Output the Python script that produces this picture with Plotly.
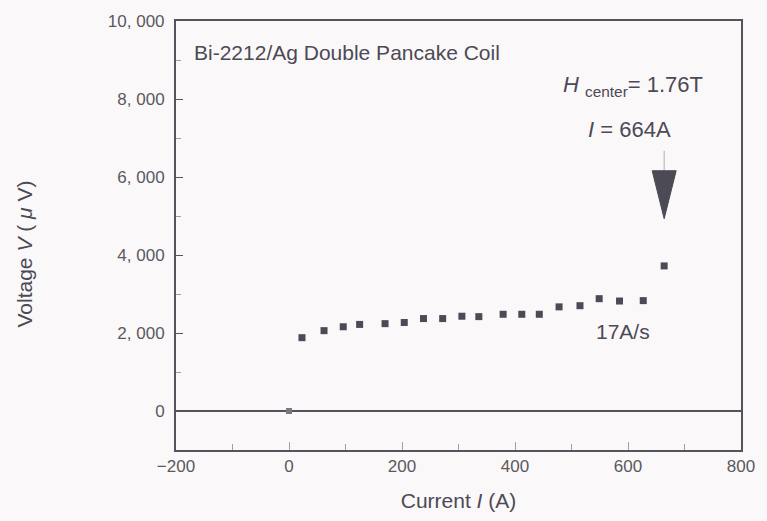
import plotly.graph_objects as go

# Quench measurement of a Bi-2212/Ag double pancake coil at 17 A/s
current_a = [23, 62, 96, 125, 170, 204, 238, 272, 306, 336, 379, 412, 443,
             478, 515, 549, 585, 627, 664]
voltage_uv = [1880, 2060, 2160, 2220, 2240, 2270, 2370, 2370, 2430, 2420,
              2480, 2480, 2480, 2670, 2700, 2880, 2820, 2830, 3720]

# Starting point of the ramp
origin_current = [0]
origin_voltage = [0]

x_ticks = [-200, 0, 200, 400, 600, 800]
y_ticks = [0, 2000, 4000, 6000, 8000, 10000]
y_tick_text = ["0", "2, 000", "4, 000", "6, 000", "8, 000", "10, 000"]

# Quench point marked by the arrow
quench_current = 664
arrow_tip_v = 4930
arrow_base_v = 6150
arrow_stem_top_v = 6670

ink = "#4b4a55"
axis_ink = "#55545c"
tick_ink = "#a09fa6"
font_family = "Liberation Sans, Arial, sans-serif"

fig = go.Figure()

fig.add_trace(go.Scatter(
    x=origin_current, y=origin_voltage, mode="markers",
    marker=dict(symbol="square", size=6, color="#7a7980"),
    showlegend=False, hoverinfo="skip",
))
fig.add_trace(go.Scatter(
    x=current_a, y=voltage_uv, mode="markers",
    marker=dict(symbol="square", size=7, color=ink),
    showlegend=False,
))

# Arrow pointing at the quench point
fig.add_shape(
    type="line", xref="x", yref="y",
    x0=quench_current, x1=quench_current,
    y0=arrow_base_v, y1=arrow_stem_top_v,
    line=dict(color="#b0afb5", width=1),
)
fig.add_shape(
    type="path", xref="x", yref="y",
    xsizemode="pixel", ysizemode="pixel",
    xanchor=quench_current, yanchor=arrow_tip_v,
    path="M -12,48 L 12,48 L 0,0 Z",
    fillcolor=ink, line=dict(color=ink, width=1),
)

annotations = [
    dict(x=-171, y=9200, text="Bi-2212/Ag Double Pancake Coil",
         xanchor="left", yanchor="middle", size=21),
    dict(x=482, y=8330, text="<i>H</i> <sub>center</sub>= 1.76T",
         xanchor="left", yanchor="middle", size=22),
    dict(x=526, y=7230, text="<i>I</i> = 664A",
         xanchor="left", yanchor="middle", size=22),
    dict(x=540, y=2040, text="17A/s",
         xanchor="left", yanchor="middle", size=21),
]
for a in annotations:
    size = a.pop("size")
    a.update(xref="x", yref="y", showarrow=False,
             font=dict(size=size, color=ink, family=font_family))
    fig.add_annotation(**a)

# Vertical axis title, set slightly below the middle of the axis
fig.add_annotation(
    xref="paper", yref="paper", x=-0.268, y=0.457,
    text="Voltage <i>V</i> ( <i>μ</i> V)", textangle=-90,
    showarrow=False, xanchor="center", yanchor="middle",
    font=dict(size=21, color=ink, family=font_family),
)

fig.update_layout(
    width=767, height=521,
    margin=dict(l=176, r=17, t=21, b=69),
    paper_bgcolor="#fbf8f9", plot_bgcolor="#fbf8f9",
    font=dict(family=font_family, color=ink, size=17),
)
fig.update_xaxes(
    range=[-200, 800], tickvals=x_ticks,
    ticks="inside", ticklen=8, tickcolor=tick_ink, tickwidth=1,
    minor=dict(dtick=100, ticks="inside", ticklen=6, tickcolor=tick_ink),
    showline=True, linecolor=axis_ink, linewidth=2, mirror=True,
    showgrid=False, zeroline=False,
    tickfont=dict(size=17, color="#5a5960"),
    title=dict(text="Current <i>I</i> (A)", font=dict(size=21), standoff=18),
)
fig.update_yaxes(
    range=[-1000, 10000], tickvals=y_ticks, ticktext=y_tick_text,
    ticks="inside", ticklen=7, tickcolor=axis_ink, tickwidth=1,
    minor=dict(dtick=1000, ticks="inside", ticklen=5, tickcolor=tick_ink),
    showline=True, linecolor=axis_ink, linewidth=2, mirror=True,
    showgrid=False, zeroline=True, zerolinecolor=axis_ink, zerolinewidth=2,
    tickfont=dict(size=17, color="#5a5960"), ticklabelstandoff=6,
)

fig.write_html("out.html")
